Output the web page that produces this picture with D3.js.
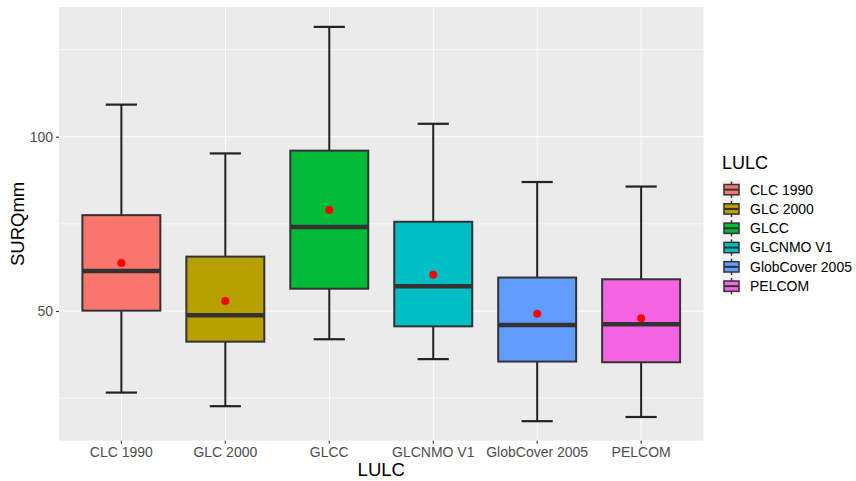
<!DOCTYPE html>
<html>
<head>
<meta charset="utf-8">
<script src="https://cdnjs.cloudflare.com/ajax/libs/d3/7.8.5/d3.min.js"></script>
<style>
  body { margin: 0; background: #fff; }
  text { font-family: "Liberation Sans", Arial, sans-serif; }
</style>
</head>
<body>
<div id="chart"></div>
<script>
// Categories (LULC)
var categories = ["CLC 1990", "GLC 2000", "GLCC", "GLCNMO V1", "GlobCover 2005", "PELCOM"];

// Box statistics
var whiskerLow  = [26.6, 22.7, 41.9, 36.2, 18.4, 19.6];
var q1          = [50.1, 41.2, 56.4, 45.6, 35.5, 35.3];
var medians     = [61.5, 48.8, 74.1, 57.1, 46.0, 46.2];
var q3          = [77.5, 65.6, 96.0, 75.6, 59.6, 59.1];
var whiskerHigh = [109.2, 95.2, 131.5, 103.7, 87.0, 85.7];
var means       = [63.8, 52.9, 79.0, 60.4, 49.2, 47.9];

// Tick values
var majorTicks = [50, 100];
var minorTicks = [25, 75, 125];

// Fill colours (ggplot hue palette)
var colors = ["#F8766D", "#B79F00", "#00BA38", "#00BFC4", "#619CFF", "#F564E3"];

var width = 856;
var height = 481;

// Panel position
var panel = { left: 59, top: 7, right: 703.5, bottom: 440.7 };

var svg = d3.select("#chart")
  .append("svg")
  .attr("width", width)
  .attr("height", height);

// Scales
var xScale = d3.scaleBand()
  .domain(categories)
  .range([panel.left, panel.right])
  .paddingOuter(0.1)
  .paddingInner(0);

var yScale = d3.scaleLinear()
  .domain([12.8, 137.2])
  .range([panel.bottom, panel.top]);

var band = xScale.bandwidth();

// Panel background
svg.append("rect")
  .attr("x", panel.left)
  .attr("y", panel.top)
  .attr("width", panel.right - panel.left)
  .attr("height", panel.bottom - panel.top)
  .attr("fill", "#EBEBEB");

// Minor grid
svg.selectAll("line.minor")
  .data(minorTicks)
  .enter()
  .append("line")
  .attr("x1", panel.left)
  .attr("x2", panel.right)
  .attr("y1", function(d) { return yScale(d); })
  .attr("y2", function(d) { return yScale(d); })
  .attr("stroke", "#fff")
  .attr("stroke-width", 0.6);

// Major grid
svg.selectAll("line.major")
  .data(majorTicks)
  .enter()
  .append("line")
  .attr("x1", panel.left)
  .attr("x2", panel.right)
  .attr("y1", function(d) { return yScale(d); })
  .attr("y2", function(d) { return yScale(d); })
  .attr("stroke", "#fff")
  .attr("stroke-width", 1.1);

svg.selectAll("line.vgrid")
  .data(categories)
  .enter()
  .append("line")
  .attr("x1", function(d) { return xScale(d) + band / 2; })
  .attr("x2", function(d) { return xScale(d) + band / 2; })
  .attr("y1", panel.top)
  .attr("y2", panel.bottom)
  .attr("stroke", "#fff")
  .attr("stroke-width", 1.1);

// Axes
var xAxis = d3.axisBottom(xScale).tickSize(3).tickPadding(3);
var yAxis = d3.axisLeft(yScale).tickValues(majorTicks).tickSize(3).tickPadding(3);

var gx = svg.append("g")
  .attr("transform", "translate(0," + panel.bottom + ")")
  .call(xAxis);
gx.select(".domain").remove();
gx.selectAll("line").attr("stroke", "#333333").attr("stroke-width", 1.1);
gx.selectAll("text").attr("fill", "#4D4D4D").attr("font-size", "14px");

var gy = svg.append("g")
  .attr("transform", "translate(" + panel.left + ",0)")
  .call(yAxis);
gy.select(".domain").remove();
gy.selectAll("line").attr("stroke", "#333333").attr("stroke-width", 1.1);
gy.selectAll("text").attr("fill", "#4D4D4D").attr("font-size", "14px");

// Boxes
var boxW = band * 0.75;
var capW = band * 0.3;
var boxes = svg.selectAll("g.box")
  .data(categories)
  .enter()
  .append("g")
  .attr("transform", function(d) { return "translate(" + (xScale(d) + band / 2) + ",0)"; });

// Whiskers (error bars)
boxes.append("line")
  .attr("x1", 0).attr("x2", 0)
  .attr("y1", function(d, i) { return yScale(whiskerHigh[i]); })
  .attr("y2", function(d, i) { return yScale(q3[i]); })
  .attr("stroke", "#222222").attr("stroke-width", 2);
boxes.append("line")
  .attr("x1", 0).attr("x2", 0)
  .attr("y1", function(d, i) { return yScale(q1[i]); })
  .attr("y2", function(d, i) { return yScale(whiskerLow[i]); })
  .attr("stroke", "#222222").attr("stroke-width", 2);
boxes.append("line")
  .attr("x1", -capW / 2).attr("x2", capW / 2)
  .attr("y1", function(d, i) { return yScale(whiskerHigh[i]); })
  .attr("y2", function(d, i) { return yScale(whiskerHigh[i]); })
  .attr("stroke", "#222222").attr("stroke-width", 2.2);
boxes.append("line")
  .attr("x1", -capW / 2).attr("x2", capW / 2)
  .attr("y1", function(d, i) { return yScale(whiskerLow[i]); })
  .attr("y2", function(d, i) { return yScale(whiskerLow[i]); })
  .attr("stroke", "#222222").attr("stroke-width", 2.2);

// Box body
boxes.append("rect")
  .attr("x", -boxW / 2)
  .attr("width", boxW)
  .attr("y", function(d, i) { return yScale(q3[i]); })
  .attr("height", function(d, i) { return yScale(q1[i]) - yScale(q3[i]); })
  .attr("fill", function(d, i) { return colors[i]; })
  .attr("stroke", "#333333")
  .attr("stroke-width", 2);

// Median
boxes.append("line")
  .attr("x1", -boxW / 2).attr("x2", boxW / 2)
  .attr("y1", function(d, i) { return yScale(medians[i]); })
  .attr("y2", function(d, i) { return yScale(medians[i]); })
  .attr("stroke", "#333333")
  .attr("stroke-width", 4.5);

// Mean points
boxes.append("circle")
  .attr("cx", 0)
  .attr("cy", function(d, i) { return yScale(means[i]); })
  .attr("r", 4)
  .attr("fill", "#FF0000");

// Axis titles
svg.append("text")
  .attr("x", (panel.left + panel.right) / 2)
  .attr("y", 476)
  .attr("text-anchor", "middle")
  .attr("font-size", "18.5px")
  .attr("fill", "#000")
  .text("LULC");

svg.append("text")
  .attr("transform", "translate(24," + ((panel.top + panel.bottom) / 2) + ") rotate(-90)")
  .attr("text-anchor", "middle")
  .attr("font-size", "18.5px")
  .attr("fill", "#000")
  .text("SURQmm");

// Legend
var legend = svg.append("g").attr("transform", "translate(722,0)");
legend.append("text")
  .attr("x", 0)
  .attr("y", 169)
  .attr("font-size", "18px")
  .attr("fill", "#000")
  .text("LULC");

var keys = legend.selectAll("g.key")
  .data(categories)
  .enter()
  .append("g")
  .attr("transform", function(d, i) { return "translate(0," + (180 + i * 19.3) + ")"; });

keys.append("rect")
  .attr("width", 19).attr("height", 19.3)
  .attr("fill", "#F2F2F2");
keys.append("line")
  .attr("x1", 9.5).attr("x2", 9.5)
  .attr("y1", 1.5).attr("y2", 17.8)
  .attr("stroke", "#333333").attr("stroke-width", 1.5);
keys.append("rect")
  .attr("x", 2).attr("y", 4.5)
  .attr("width", 15).attr("height", 10.3)
  .attr("fill", function(d, i) { return colors[i]; })
  .attr("stroke", "#333333").attr("stroke-width", 1.5);
keys.append("line")
  .attr("x1", 2).attr("x2", 17)
  .attr("y1", 9.65).attr("y2", 9.65)
  .attr("stroke", "#333333").attr("stroke-width", 2);
keys.append("text")
  .attr("x", 28)
  .attr("y", 9.65)
  .attr("dy", "0.35em")
  .attr("font-size", "14px")
  .attr("fill", "#000")
  .text(function(d) { return d; });
</script>
</body>
</html>
